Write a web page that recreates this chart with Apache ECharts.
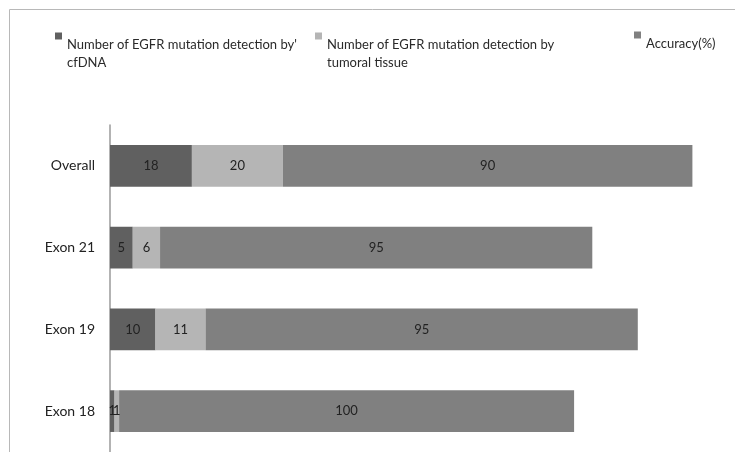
<!DOCTYPE html>
<html>
<head>
<meta charset="utf-8">
<script src="https://cdn.jsdelivr.net/npm/echarts@6/dist/echarts.min.js"></script>
<style>
  html, body { margin: 0; padding: 0; background: #fff; }
  #chart { width: 735px; height: 452px; }
</style>
</head>
<body>
<div id="chart"></div>
<script>
// Categories, top to bottom
const categories = ['Overall', 'Exon 21', 'Exon 19', 'Exon 18'];

// Series names and values (same order as categories)
const seriesNames = [
  'Number of EGFR mutation detection by\' cfDNA',
  'Number of EGFR mutation detection by tumoral tissue',
  'Accuracy(%)'
];
const cfDNA = [18, 5, 10, 1];
const tissue = [20, 6, 11, 1];
const accuracy = [90, 95, 95, 100];

// Legend text lines as they wrap on the page
const legendLines = [
  ['Number of EGFR mutation detection by\'', 'cfDNA'],
  ['Number of EGFR mutation detection by', 'tumoral tissue'],
  ['Accuracy(%)']
];

const colors = ['#606060', '#b5b5b5', '#808080'];
const font = 'Lato, "Open Sans", sans-serif';

const chart = echarts.init(document.getElementById('chart'), null, { renderer: 'canvas' });

// The swatch sits at the top; a spacer line pushes the text below it.
function makeLegend(i, left, top) {
  const lines = legendLines[i];
  const lh = 18;
  const spacer = lh * lines.length;
  const text = '{s| }\n' + lines.map(l => '{t|' + l + '}').join('\n');
  return {
    show: true,
    data: [seriesNames[i]],
    left: left,
    top: top,
    padding: 0,
    itemWidth: 7,
    itemHeight: 7,
    itemGap: 0,
    icon: 'rect',
    selectedMode: false,
    formatter: () => text,
    textStyle: {
      rich: {
        s: { fontSize: 2, lineHeight: spacer },
        t: { fontFamily: font, fontSize: 13, color: '#2a2a2a', lineHeight: lh }
      }
    }
  };
}

const labelStyle = {
  show: true,
  position: 'inside',
  color: '#222',
  fontFamily: font,
  fontSize: 13
};

const valuesList = [cfDNA, tissue, accuracy];

chart.setOption({
  animation: false,
  color: colors,
  graphic: [{
    type: 'rect',
    shape: { x: 9.5, y: 9.5, width: 800, height: 500 },
    style: { fill: 'none', stroke: '#b8b8b8', lineWidth: 1 },
    silent: true,
    z: -1
  }],
  legend: [
    makeLegend(0, 55, 17),
    makeLegend(1, 315, 17),
    makeLegend(2, 634, 25)
  ],
  grid: {
    left: 110,
    top: 125,
    width: 591.5,
    height: 330,
    containLabel: false
  },
  xAxis: {
    type: 'value',
    min: 0,
    max: 130,
    show: false,
    splitLine: { show: false }
  },
  yAxis: {
    type: 'category',
    data: categories,
    inverse: true,
    axisLine: { show: true, lineStyle: { color: '#9a9a9a', width: 1.5 } },
    axisTick: { show: false },
    axisLabel: {
      color: '#222',
      fontFamily: font,
      fontSize: 14,
      margin: 15
    }
  },
  series: valuesList.map((vals, i) => ({
    name: seriesNames[i],
    type: 'bar',
    stack: 'total',
    barWidth: '51%',
    data: vals,
    itemStyle: { color: colors[i] },
    label: labelStyle
  }))
});
</script>
</body>
</html>
